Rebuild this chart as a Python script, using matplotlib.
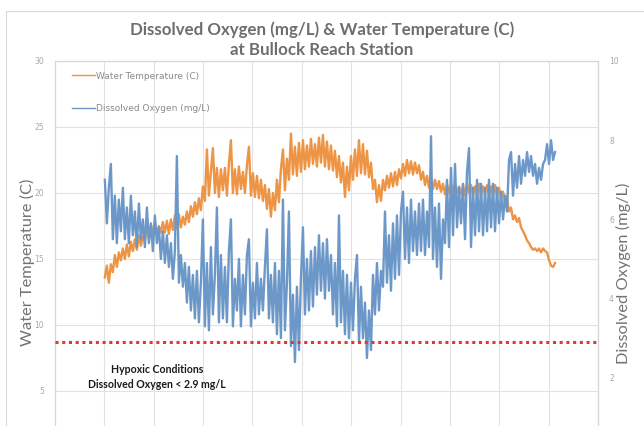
import numpy as np
import matplotlib.pyplot as plt
from matplotlib.patches import Rectangle

# time axis (grid units, one unit per vertical grid line)
x_start, x_end = 1.01, 10.13

water_temp = [
    13.6, 14.5, 13.2, 14.6, 14.0, 15.3, 14.4, 15.5, 14.9, 15.8,
    15.0, 16.1, 15.2, 16.3, 15.6, 16.5, 15.7, 16.8, 16.0, 16.7,
    16.4, 17.4, 16.6, 17.6, 16.9, 17.8, 16.8, 17.5, 17.0, 17.8,
    17.0, 17.9, 16.9, 18.0, 17.2, 18.3, 17.3, 18.4, 17.4, 18.2,
    17.6, 18.6, 17.8, 19.0, 18.2, 19.3, 18.4, 19.6, 18.7, 20.5,
    19.4, 23.3, 19.8, 21.6, 23.4, 20.0, 21.9, 19.7, 21.8, 20.2,
    21.9, 19.8, 22.2, 24.0, 20.0, 21.8, 19.9, 22.0, 20.3, 21.6,
    20.0, 22.1, 23.5, 19.8, 21.5, 19.7, 21.3, 19.6, 21.0, 19.4,
    20.6, 18.8, 20.3, 18.2, 20.0, 18.7, 21.0, 19.3, 21.8, 23.3,
    20.2, 22.6, 21.0, 24.5, 21.4, 23.5, 21.3, 23.8, 21.6, 24.0,
    21.8, 23.6, 22.0, 24.1, 22.2, 23.7, 22.0, 24.2, 22.3, 24.4,
    22.0, 23.9, 21.8, 23.6, 21.7, 23.2, 21.2, 22.8, 20.8, 22.3,
    19.7, 22.0, 20.2, 22.8, 21.0, 23.3, 21.3, 24.0, 21.5, 23.7,
    21.4, 23.2, 21.2, 22.3, 20.3, 21.0, 19.3, 20.6, 19.4, 21.0,
    20.2, 21.3, 20.4, 21.5, 20.5, 21.6, 20.6, 21.8, 21.1, 22.2,
    21.3, 22.5, 21.5, 22.4, 21.4, 22.3, 21.5, 22.1, 21.0, 21.6,
    20.6, 21.3, 20.4, 21.1, 20.3, 21.0, 20.3, 20.9, 20.1, 20.7,
    19.9, 20.7, 20.0, 20.6, 19.8, 20.7, 20.0, 20.5, 19.9, 20.6,
    19.8, 20.7, 20.0, 20.6, 19.8, 20.5, 19.9, 20.7, 19.8, 20.5,
    19.9, 20.6, 19.8, 20.5, 19.9, 20.6, 19.7, 20.4, 19.6, 20.1,
    19.2, 19.6, 18.6, 18.9, 18.0, 18.3, 17.8, 18.1, 17.4, 17.1,
    16.8, 16.4, 16.2, 15.9, 15.7, 15.8, 15.6, 15.8, 15.5, 15.8,
    15.6, 15.5, 14.9, 14.5, 14.4, 14.7,
]

dissolved_oxygen = [
    7.0, 5.9, 6.8, 7.4, 5.5, 6.6, 5.4, 6.5, 5.7, 6.8,
    5.5, 6.3, 5.4, 6.6, 5.6, 6.2, 5.3, 6.4, 5.5, 6.0,
    5.3, 6.3, 5.4, 5.9, 5.2, 6.1, 5.4, 5.8, 5.0, 5.7,
    4.9, 5.6, 4.8, 5.4, 4.5, 5.2, 7.6, 4.4, 5.1, 4.3,
    4.9, 3.9, 4.8, 3.7, 4.6, 3.5, 4.7, 3.4, 4.4, 6.0,
    3.3, 4.9, 3.2, 5.3, 3.6, 4.6, 6.3, 3.4, 5.1, 3.5,
    4.8, 3.4, 5.2, 6.0, 3.3, 4.5, 3.7, 5.0, 3.3, 4.6,
    3.6, 5.1, 5.5, 3.3, 4.4, 3.5, 4.9, 3.6, 4.5, 3.7,
    4.8, 5.75, 3.5, 4.6, 3.4, 4.9, 3.1, 4.7, 3.0, 6.5,
    3.2, 4.4, 6.2, 2.8, 4.1, 2.4, 4.3, 2.7, 4.5, 5.8,
    3.6, 5.0, 3.7, 5.2, 3.8, 5.3, 4.1, 5.6, 4.2, 5.4,
    4.0, 5.5, 4.2, 5.1, 3.6, 4.9, 3.3, 6.1, 3.4, 4.7,
    3.1, 4.6, 3.0, 4.4, 3.2, 4.5, 5.1, 2.9, 4.3, 3.0,
    3.9, 2.5, 3.7, 2.7, 4.6, 3.6, 4.9, 3.7, 4.7, 4.3,
    6.2, 4.4, 5.6, 4.2, 5.9, 4.5, 6.1, 4.6, 6.2, 6.7,
    5.0, 6.3, 4.9, 6.5, 5.2, 6.2, 5.1, 6.4, 5.2, 6.5,
    5.1, 6.2, 5.3, 8.1, 5.0, 6.3, 4.8, 6.4, 4.5, 6.0,
    5.4, 7.0, 5.3, 7.3, 5.6, 7.4, 5.8, 6.8, 5.9, 6.9,
    5.5, 7.2, 7.8, 5.3, 6.8, 5.6, 7.0, 5.7, 6.9, 5.6,
    6.8, 5.7, 7.0, 5.8, 6.9, 5.7, 6.8, 5.9, 6.7, 6.0,
    6.6, 6.2, 7.5, 7.7, 6.6, 7.4, 6.8, 7.6, 6.9, 7.5,
    7.1, 7.7, 7.2, 7.6, 7.1, 7.4, 6.9, 7.3, 7.0, 7.4,
    7.5, 7.9, 7.4, 8.0, 7.5, 7.7,
]

hypoxic_limit = 2.9
temp_ticks = [5, 10, 15, 20, 25, 30]
do_ticks = [2, 4, 6, 8, 10]

x = np.linspace(x_start, x_end, len(water_temp))

temp_color = '#EE9445'
do_color = '#6C98C9'
grid_color = '#E2E2E2'
tick_color = '#A8A8A8'
label_color = '#737373'

fig = plt.figure(figsize=(6.44, 4.26), dpi=100)
# light chart-area frame
fig.patches.append(Rectangle((6 / 644, -0.1), 1.0, 1 - 11 / 426 + 0.1, transform=fig.transFigure,
                             fill=False, edgecolor='#D9D9D9', linewidth=0.8))

# plot area runs past the bottom edge of the picture (it is cropped)
ax = fig.add_axes([55 / 644, -31 / 426, 543 / 644, 396 / 426])
ax2 = ax.twinx()

ax.plot(x, water_temp, color=temp_color, linewidth=1.7, label='Water Temperature (C)', zorder=3)
ax2.plot(x, dissolved_oxygen, color=do_color, linewidth=1.7, label='Dissolved Oxygen (mg/L)', zorder=3)
ax2.axhline(hypoxic_limit, color='#E0392B', linestyle=(0, (1, 1.2)), linewidth=2.2, zorder=4)

ax.set_xlim(0, 11)
ax.set_ylim(0, 30)
ax2.set_ylim(0, 10)
ax.set_xticks(np.arange(0, 12))
ax.set_xticklabels([])
ax.set_yticks(temp_ticks)
ax2.set_yticks(do_ticks)
ax.tick_params(axis='both', length=0, labelsize=5.5, labelcolor=tick_color, pad=8)
ax2.tick_params(axis='y', length=0, labelsize=5.5, labelcolor=tick_color, pad=8)

ax.grid(True, color=grid_color, linewidth=0.8)
ax.set_axisbelow(True)
for a in (ax, ax2):
    for spine in a.spines.values():
        spine.set_edgecolor('#D6D6D6')
        spine.set_linewidth(0.8)

ax.set_ylabel('Water Temperature (C)', family='Lato', fontsize=11.8, color=label_color)
ax.yaxis.set_label_coords(-20 / 543, (457 - 262) / 396)
ax2.set_ylabel('Dissolved Oxygen (mg/L)', family='Lato', fontsize=11.8, color=label_color)
ax2.yaxis.set_label_coords(1 + 18 / 543, (457 - 273) / 396)

fig.text(0.5, 1 - 40 / 426, 'Dissolved Oxygen (mg/L) & Water Temperature (C)\nat Bullock Reach Station',
         ha='center', va='center', family='Lato', fontweight='bold', fontsize=12.2,
         color='#6E6E6E', linespacing=1.3)

ax2.text((157 - 55) / 543, (457 - 377) / 396, 'Hypoxic Conditions\nDissolved Oxygen < 2.9 mg/L',
         transform=ax2.transAxes, ha='center', va='center', family='Lato', fontweight='bold',
         fontsize=7.6, color='#1A1A1A', linespacing=1.35)

h1, l1 = ax.get_legend_handles_labels()
h2, l2 = ax2.get_legend_handles_labels()
leg = ax2.legend(h1 + h2, l1 + l2, loc='upper left', bbox_to_anchor=(13 / 543, 1 - 7 / 396),
                 frameon=False, fontsize=6.5, labelspacing=2.6, handlelength=2.6,
                 handletextpad=0.1, borderaxespad=0)
for t in leg.get_texts():
    t.set_color('#8A8A8A')
for h in leg.get_lines():
    h.set_linewidth(1.0)

fig.savefig('out.png', dpi=100)
